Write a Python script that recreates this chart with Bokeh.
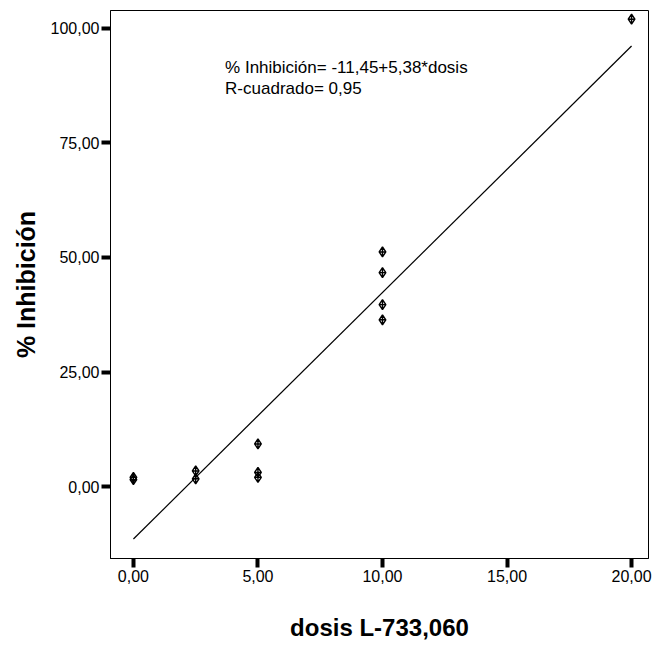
from bokeh.plotting import figure
from bokeh.models import Range1d, FixedTicker, Label
from bokeh.embed import file_html
from bokeh.resources import INLINE

# data
dose = [0.0, 0.0, 2.5, 2.5, 5.0, 5.0, 5.0, 10.0, 10.0, 10.0, 10.0, 20.0]
inhib = [2.0, 1.5, 3.4, 1.7, 9.3, 3.1, 2.0, 51.2, 46.7, 39.7, 36.4, 102.0]
intercept = -11.45
slope = 5.38
fit_x = [0.0, 20.0]
fit_y = [intercept + slope * v for v in fit_x]
x_ticks = [0, 5, 10, 15, 20]
x_labels = ["0,00", "5,00", "10,00", "15,00", "20,00"]
y_ticks = [0, 25, 50, 75, 100]
y_labels = ["0,00", "25,00", "50,00", "75,00", "100,00"]
eq_lines = ["% Inhibición= -11,45+5,38*dosis", "R-cuadrado= 0,95"]

p = figure(frame_width=538, frame_height=548, output_backend="svg",
           toolbar_location=None, min_border_left=110, min_border_top=10,
           min_border_right=4, min_border_bottom=84,
           x_range=Range1d(-0.92, 20.68), y_range=Range1d(-15.7, 103.9))
p.background_fill_color = "white"
p.border_fill_color = "white"
p.outline_line_color = "black"
p.outline_line_width = 1
p.grid.visible = False

p.line(fit_x, fit_y, line_color="black", line_width=1.2)
p.scatter(dose, inhib, marker="diamond_cross", size=10, line_color="black",
          fill_color=None, line_width=1.4)

for i, t in enumerate(eq_lines):
    p.add_layout(Label(x=3.68, y=91.4 - i * 4.6, text=t, text_font="Liberation Sans",
                       text_font_size="17px", text_color="black",
                       text_baseline="middle"))

for ax, ticks, labels in ((p.xaxis[0], x_ticks, x_labels), (p.yaxis[0], y_ticks, y_labels)):
    ax.ticker = FixedTicker(ticks=ticks)
    ax.major_label_overrides = {t: l for t, l in zip(ticks, labels)}
    ax.major_tick_line_width = 4
    ax.major_tick_out = 9
    ax.major_tick_in = 0
    ax.minor_tick_line_color = None
    ax.axis_line_color = "black"
    ax.major_label_text_font = "Liberation Sans"
    ax.major_label_text_font_size = "16px"
    ax.major_label_text_color = "black"
    ax.axis_label_text_font = "Liberation Sans"
    ax.axis_label_text_font_style = "bold"
    ax.axis_label_text_color = "black"

p.xaxis.axis_label = "dosis L-733,060"
p.yaxis.axis_label = "% Inhibición"
p.xaxis.axis_label_text_font_size = "24px"
p.yaxis.axis_label_text_font_size = "25px"
p.xaxis.major_label_standoff = 2
p.yaxis.major_label_standoff = 2
p.xaxis.axis_label_standoff = 29
p.yaxis.axis_label_standoff = 8

open("out.html", "w").write(file_html(p, INLINE))
